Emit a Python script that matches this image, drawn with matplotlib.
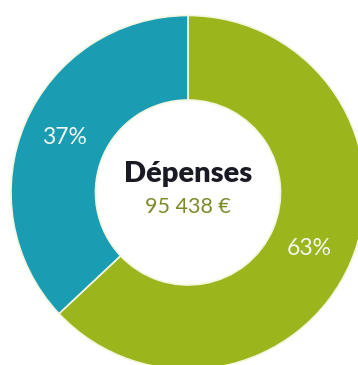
import matplotlib
matplotlib.use("Agg")
import matplotlib.pyplot as plt

categories = ["Part A", "Part B"]
shares = [63, 37]
colors = ["#9bb51c", "#1a9db2"]
labels = ["63%", "37%"]
title = "Dépenses"
total = "95 438 €"

W, H = 358, 365
fig = plt.figure(figsize=(W / 100, H / 100), dpi=100)
cx, cy, R = 188, 192.5, 177
ax = fig.add_axes([(cx - R) / W, (H - cy - R) / H, 2 * R / W, 2 * R / H])

wedges, _ = ax.pie(shares, colors=colors, startangle=90, counterclock=False,
                   radius=1.0,
                   wedgeprops=dict(width=1 - 92.5 / 177, edgecolor="#f4f7e0", linewidth=1.2))
ax.set_xlim(-1, 1)
ax.set_ylim(-1, 1)
ax.set_aspect("equal")
ax.axis("off")

label_pos = [(0.684, -0.314), (-0.70, 0.31)]
for lab, (x, y) in zip(labels, label_pos):
    ax.text(x, y, lab, ha="center", va="center", color="#f2f7f2", fontsize=16.5,
            family="Lato")

ax.text(0, 0.105, title, ha="center", va="center", color="#1a1a24", fontsize=21,
        fontweight="heavy", family="Lato")
ax.text(0, -0.08, total, ha="center", va="center", color="#7d8a2a", fontsize=15.5,
        family="Lato")

fig.savefig("out.png", dpi=100)
